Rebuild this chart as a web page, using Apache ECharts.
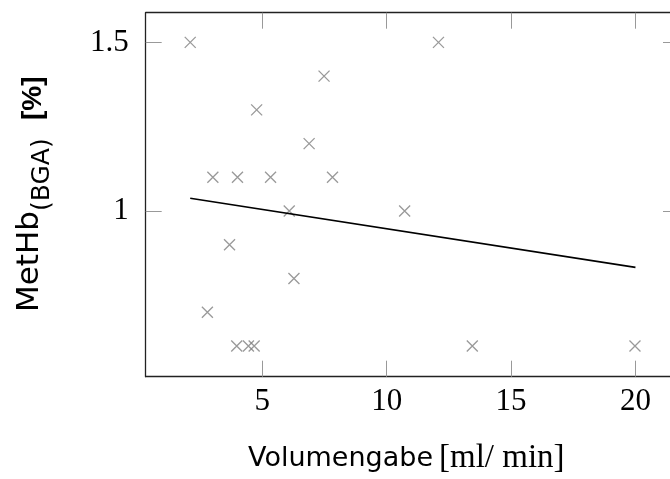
<!DOCTYPE html>
<html>
<head>
<meta charset="utf-8">
<style>html,body{margin:0;padding:0;background:#fff;overflow:hidden;width:670px;height:479px;}#c{width:680px;height:479px;}</style>
<script src="https://cdn.jsdelivr.net/npm/echarts@6/dist/echarts.min.js"></script>
</head>
<body>
<div id="c"></div>
<script>
// Data
const volX = [2.1, 2.79, 3.01, 3.68, 4.0, 3.97, 4.44, 4.67, 4.77, 5.33, 6.08, 6.27, 6.88, 7.48, 7.82, 10.72, 12.08, 13.44, 19.98];
const metHbY = [1.5, 0.7, 1.1, 0.9, 1.1, 0.6, 0.6, 0.6, 1.3, 1.1, 1.0, 0.8, 1.2, 1.4, 1.1, 1.0, 1.5, 0.6, 0.6];
const fitX = [2.1, 20];
const fitY = [1.038, 0.833];
const xTicks = [5, 10, 15, 20];
const yTicks = [1, 1.5];

const points = volX.map((x, i) => [x, metHbY[i]]);
const fitLine = fitX.map((x, i) => [x, fitY[i]]);

const chart = echarts.init(document.getElementById('c'), null, {renderer: 'canvas', width: 680, height: 479});
const axisLineStyle = {color: '#222', width: 1.3};
const tickStyle = {color: '#999', width: 1};
const labelFont = {fontFamily: 'Liberation Serif', fontSize: 31, color: '#000'};
const xMin = 0.31, xMax = 21.75, yMin = 0.509, yMax = 1.588;

function xAxisDef(pos, showLabel) {
  return {
    type: 'value', position: pos, min: xMin, max: xMax,
    axisLine: {show: true, onZero: false, lineStyle: axisLineStyle},
    axisTick: {show: true, inside: true, length: 16, lineStyle: tickStyle, customValues: xTicks},
    axisLabel: Object.assign({show: showLabel, margin: 10, customValues: xTicks}, labelFont),
    splitLine: {show: false}
  };
}
function yAxisDef(pos, showLabel) {
  return {
    type: 'value', position: pos, min: yMin, max: yMax,
    axisLine: {show: true, onZero: false, lineStyle: axisLineStyle},
    axisTick: {show: true, inside: true, length: 16, lineStyle: tickStyle, customValues: yTicks},
    axisLabel: Object.assign({show: showLabel, margin: 17, customValues: yTicks,
      formatter: v => String(v)}, labelFont),
    splitLine: {show: false}
  };
}

chart.setOption({
  animation: false,
  grid: {left: 145.7, top: 12.7, right: 1, bottom: 102.3, containLabel: false, outerBoundsMode: 'none'},
  xAxis: [xAxisDef('bottom', true), xAxisDef('top', false)],
  yAxis: [yAxisDef('left', true), yAxisDef('right', false)],
  series: [
    {
      type: 'scatter', xAxisIndex: 0, yAxisIndex: 0, data: points,
      symbol: 'path://M0 0L10 10M10 0L0 10', symbolSize: 11,
      itemStyle: {color: 'rgba(0,0,0,0)', borderColor: '#808080', borderWidth: 1.3},
      emphasis: {disabled: true}, z: 3
    },
    {
      type: 'line', xAxisIndex: 0, yAxisIndex: 0, data: fitLine,
      showSymbol: false, symbol: 'none',
      lineStyle: {color: '#000', width: 1.6}, emphasis: {disabled: true}, z: 4
    }
  ],
  graphic: [
    {type: 'text', x: 433, y: 459, style: {text: 'Volumengabe', font: '27px "DejaVu Sans"', fill: '#000', textAlign: 'right', textVerticalAlign: 'middle'}},
    {type: 'text', x: 439, y: 458, style: {text: '[ml/ min]', font: '33px "Liberation Serif"', fill: '#000', textAlign: 'left', textVerticalAlign: 'middle'}},
    {type: 'text', x: 30, y: 312, rotation: Math.PI / 2, style: {text: 'MetHb', font: '31px "DejaVu Sans"', fill: '#000', textAlign: 'left', textVerticalAlign: 'middle'}},
    {type: 'text', x: 42, y: 211, rotation: Math.PI / 2, style: {text: '(BGA)', font: '25px "DejaVu Sans"', fill: '#000', textAlign: 'left', textVerticalAlign: 'middle'}},
    {type: 'text', x: 33, y: 120, rotation: Math.PI / 2, style: {text: '[%]', font: 'bold 28px "Liberation Sans"', fill: '#000', textAlign: 'left', textVerticalAlign: 'middle'}}
  ]
});
</script>
</body>
</html>
